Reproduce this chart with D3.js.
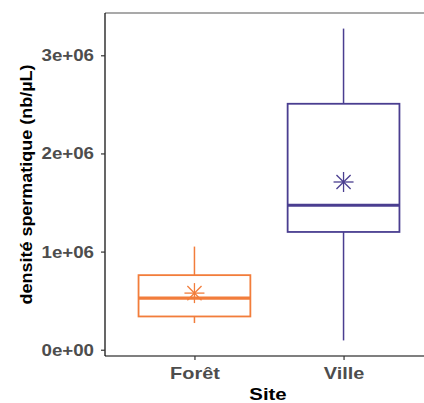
<!DOCTYPE html>
<html>
<head>
<meta charset="utf-8">
<script src="https://cdn.jsdelivr.net/npm/d3@7"></script>
<style>
  body { margin: 0; background: #fff; }
  text { font-family: "Liberation Sans", Arial, sans-serif; font-weight: bold; }
</style>
</head>
<body>
<svg></svg>
<script>
// dimensions
var width = 424;
var height = 403;
var svg = d3.select("svg").attr("width", width).attr("height", height);

// data
var sites = ["Forêt", "Ville"];
var lowWhisker = [272000, 95000];
var q1 = [339000, 1200000];
var median = [526000, 1472000];
var q3 = [760000, 2506000];
var highWhisker = [1051000, 3272000];
var means = [577000, 1709000];
var yTicks = [0, 1000000, 2000000, 3000000];
var colors = ["#F27D3B", "#4A3E90"];

// panel
var pLeft = 105, pTop = 13, pBottom = 356, pRight = 433;

// y domain with 5% expansion like ggplot
var lo = d3.min(lowWhisker), hi = d3.max(highWhisker);
var pad = (hi - lo) * 0.05;
var y = d3.scaleLinear().domain([lo - pad, hi + pad]).range([pBottom, pTop]);

var x = d3.scalePoint().domain(sites).range([pLeft, pRight]).padding(0.6);
var boxW = x.step() * 0.75;

// top border
svg.append("line")
    .attr("x1", pLeft).attr("x2", width)
    .attr("y1", pTop).attr("y2", pTop)
    .attr("stroke", "#555").attr("stroke-width", 1.2);

// boxes
sites.forEach(function(s, i) {
    var cx = x(s);
    var g = svg.append("g").attr("stroke", colors[i]).attr("fill", "none");
    // whiskers
    g.append("line").attr("x1", cx).attr("x2", cx)
        .attr("y1", y(q3[i])).attr("y2", y(highWhisker[i])).attr("stroke-width", 1.5);
    g.append("line").attr("x1", cx).attr("x2", cx)
        .attr("y1", y(q1[i])).attr("y2", y(lowWhisker[i])).attr("stroke-width", 1.5);
    // box
    g.append("rect")
        .attr("x", cx - boxW / 2).attr("width", boxW)
        .attr("y", y(q3[i])).attr("height", y(q1[i]) - y(q3[i]))
        .attr("fill", "#fff").attr("stroke-width", 1.8);
    // median
    g.append("line")
        .attr("x1", cx - boxW / 2).attr("x2", cx + boxW / 2)
        .attr("y1", y(median[i])).attr("y2", y(median[i]))
        .attr("stroke-width", 3.2);
    // mean asterisk (pch 8)
    var my = y(means[i]), r = 10, d = r / Math.SQRT2;
    var star = svg.append("g").attr("stroke", colors[i]).attr("stroke-width", 1.3);
    [[-r, 0, r, 0], [0, -r, 0, r], [-d, -d, d, d], [-d, d, d, -d]].forEach(function(p) {
        star.append("line")
            .attr("x1", cx + p[0]).attr("y1", my + p[1])
            .attr("x2", cx + p[2]).attr("y2", my + p[3]);
    });
});

// y axis
var yAxis = svg.append("g")
    .attr("transform", "translate(" + pLeft + ",0)")
    .call(d3.axisLeft(y).tickValues(yTicks).tickSize(4).tickPadding(7)
        .tickFormat(function(v) { return v.toExponential(0).replace(/e\+(\d)$/, "e+0$1"); }));
yAxis.attr("font-size", 17).attr("font-family", null);
yAxis.select(".domain").attr("stroke", "#000").attr("stroke-width", 1.2)
    .attr("d", "M0," + pTop + "V" + pBottom);
yAxis.selectAll(".tick line").attr("stroke", "#333").attr("stroke-width", 1.2);
yAxis.selectAll(".tick text").attr("fill", "#4D4D4D")
    .attr("x", 0)
    .attr("transform", "translate(-11,0) scale(1.1,1)");

// x axis
var xAxis = svg.append("g")
    .attr("transform", "translate(0," + pBottom + ")")
    .call(d3.axisBottom(x).tickSize(4).tickPadding(7));
xAxis.attr("font-size", 17).attr("font-family", null);
xAxis.select(".domain").attr("stroke", "#000").attr("stroke-width", 1.2)
    .attr("d", "M" + pLeft + ",0H" + width);
xAxis.selectAll(".tick line").attr("stroke", "#333").attr("stroke-width", 1.2);
xAxis.selectAll(".tick text").attr("fill", "#4D4D4D")
    .attr("transform", "scale(1.17,1)");

// axis titles
svg.append("text")
    .attr("transform", "translate(268,400) scale(1.2,1)")
    .attr("text-anchor", "middle")
    .attr("font-size", "17px").attr("fill", "#000")
    .text("Site");

svg.append("text")
    .attr("transform", "translate(32," + (pTop + pBottom) / 2 + ") rotate(-90) scale(1.09,1)")
    .attr("text-anchor", "middle")
    .attr("font-size", "16.5px").attr("fill", "#000")
    .text("densité spermatique (nb/µL)");
</script>
</body>
</html>
